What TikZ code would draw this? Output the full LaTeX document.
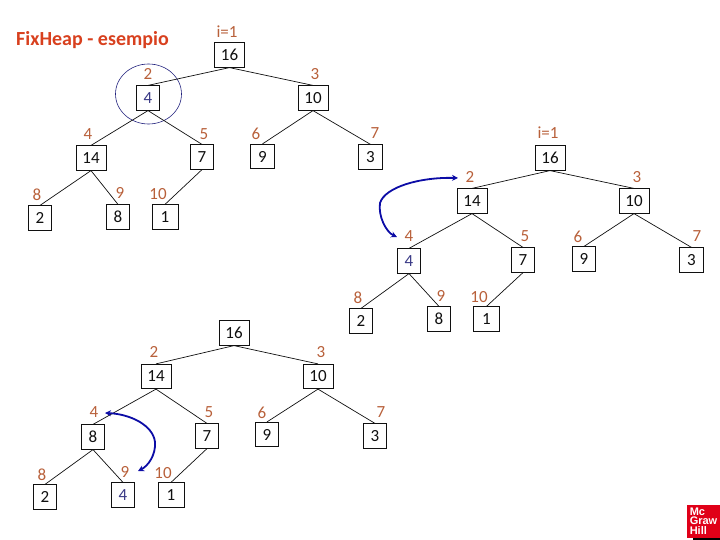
\documentclass[tikz,border=0pt]{standalone}
\usepackage{fontspec}
\setmainfont{Carlito}
\newfontfamily\logofont{Liberation Sans}
\usetikzlibrary{arrows.meta}
\definecolor{ink}{HTML}{101010}
\definecolor{idxcol}{HTML}{B8603A}
\definecolor{titlecol}{HTML}{D8401E}
\definecolor{keycol}{HTML}{3A3A86}
\definecolor{swapcol}{HTML}{0C0CA6}
\definecolor{circcol}{HTML}{20207C}
\definecolor{logocol}{HTML}{E00018}

\begin{document}
\begin{tikzpicture}[
  x=1pt,y=-1pt,draw=ink,text=ink,
  line width=0.7pt,
  box/.style={draw,fill=white,minimum width=23.5pt,minimum height=24.5pt,
    inner sep=0pt,font=\fontsize{17}{17}\selectfont},
  widebox/.style={box,minimum width=30pt},
  idx/.style={text=idxcol,inner sep=0pt,font=\fontsize{17}{17}\selectfont},
  moved/.style={text=keycol},
  swap/.style={draw=swapcol,line width=1.8pt,{Stealth[length=6pt,width=6pt]}-{Stealth[length=6pt,width=6pt]}}
]
\useasboundingbox (0,0) rectangle (720,540);

\node[text=titlecol,inner sep=0pt,font=\fontsize{20}{20}\selectfont\bfseries] (title) at (92.5,40) {FixHeap - esempio};

% First tree, key 4 out of place at index 2.
\node[widebox] (a1) at (229.5,55) {16};  \node[idx] (la1) at (227,32) {i=1};
\node[box] (a2) at (148,98) [moved] {4};  \node[idx] (la2) at (148,74) {2};
\node[widebox] (a3) at (313,98) {10};  \node[idx] (la3) at (315,74) {3};
\node[widebox] (a4) at (91,158) {14};  \node[idx] (la4) at (88,134) {4};
\node[box] (a5) at (202,157) {7};  \node[idx] (la5) at (204,134) {5};
\node[box] (a6) at (262.5,156.5) {9};  \node[idx] (la6) at (256,134) {6};
\node[box] (a7) at (370.5,157) {3};  \node[idx] (la7) at (375,133) {7};
\node[box] (a8) at (40,218) {2};  \node[idx] (la8) at (37,195) {8};
\node[box] (a9) at (118,217) {8};  \node[idx] (la9) at (120,193) {9};
\node[box,minimum width=26pt] (a10) at (165,217) {1};  \node[idx] (la10) at (158,194) {10};
\draw[circcol,line width=0.6pt] (a2.center)+(0.5,-4) ellipse (33 and 30);

% Second tree, 14 moved up to index 2.
\node[widebox] (b1) at (550,158) {16};  \node[idx] (lb1) at (548,133) {i=1};
\node[widebox] (b2) at (472,201) {14};  \node[idx] (lb2) at (470,177) {2};
\node[widebox] (b3) at (634,201) {10};  \node[idx] (lb3) at (637,177) {3};
\node[box] (b4) at (409,261) [moved] {4};  \node[idx] (lb4) at (409,236) {4};
\node[box] (b5) at (523,260) {7};  \node[idx] (lb5) at (525,236) {5};
\node[box] (b6) at (584,259) {9};  \node[idx] (lb6) at (578,237) {6};
\node[box] (b7) at (691.5,260) {3};  \node[idx] (lb7) at (697,236) {7};
\node[box] (b8) at (361,321) {2};  \node[idx] (lb8) at (358,298) {8};
\node[box] (b9) at (439,319) {8};  \node[idx] (lb9) at (441,296) {9};
\node[box,minimum width=26pt] (b10) at (486.5,319) {1};  \node[idx] (lb10) at (479,297) {10};

% Third tree, 8 moved up to index 4.
\node[widebox] (c1) at (234,333) {16};
\node[widebox] (c2) at (156,376.5) {14};  \node[idx] (lc2) at (154,352) {2};
\node[widebox] (c3) at (318,376.5) {10};  \node[idx] (lc3) at (321,352) {3};
\node[box] (c4) at (93,437) {8};  \node[idx] (lc4) at (94,412) {4};
\node[box] (c5) at (207,436) {7};  \node[idx] (lc5) at (209,412) {5};
\node[box] (c6) at (267,434.5) {9};  \node[idx] (lc6) at (262,413) {6};
\node[box] (c7) at (375,436) {3};  \node[idx] (lc7) at (381,412) {7};
\node[box] (c8) at (45,497) {2};  \node[idx] (lc8) at (42,475) {8};
\node[box] (c9) at (123,495) [moved] {4};  \node[idx] (lc9) at (125,472) {9};
\node[box,minimum width=26pt] (c10) at (171,495) {1};  \node[idx] (lc10) at (163,473) {10};

% Same heap shape each time.
\foreach \t in {a,b,c}
  \foreach \p/\q in {1/2,1/3,2/4,2/5,3/6,3/7,4/8,4/9,5/10}
    \draw (\t\p.south) -- (\t\q.north);

% Swap arrows end just beside the index labels.
\coordinate (sb2) at (458,178);
\coordinate (sb4) at (397,237);
\coordinate (sc4) at (105,413);
\coordinate (sc9) at (138,471);
\coordinate (sbm) at (380,203);
\coordinate (scm) at (155,442);
\draw[swap] (sb4) .. controls (386,232) and (378,216) .. (sbm)
  .. controls (385,187) and (420,177) .. (sb2);
\draw[swap] (sc4) .. controls (130,414) and (153,425) .. (scm)
  .. controls (156,455) and (148,466) .. (sc9);

% Publisher mark in the corner.
\fill[black] (693,530) rectangle (720,540);
\node[fill=logocol,text=white,minimum width=33pt,minimum height=33pt,inner sep=0pt,
  align=left,font=\logofont\bfseries\fontsize{11}{9.5}\selectfont] (logo) at (703.5,521) {Mc\\Graw\\Hill};

\end{tikzpicture}
\end{document}
